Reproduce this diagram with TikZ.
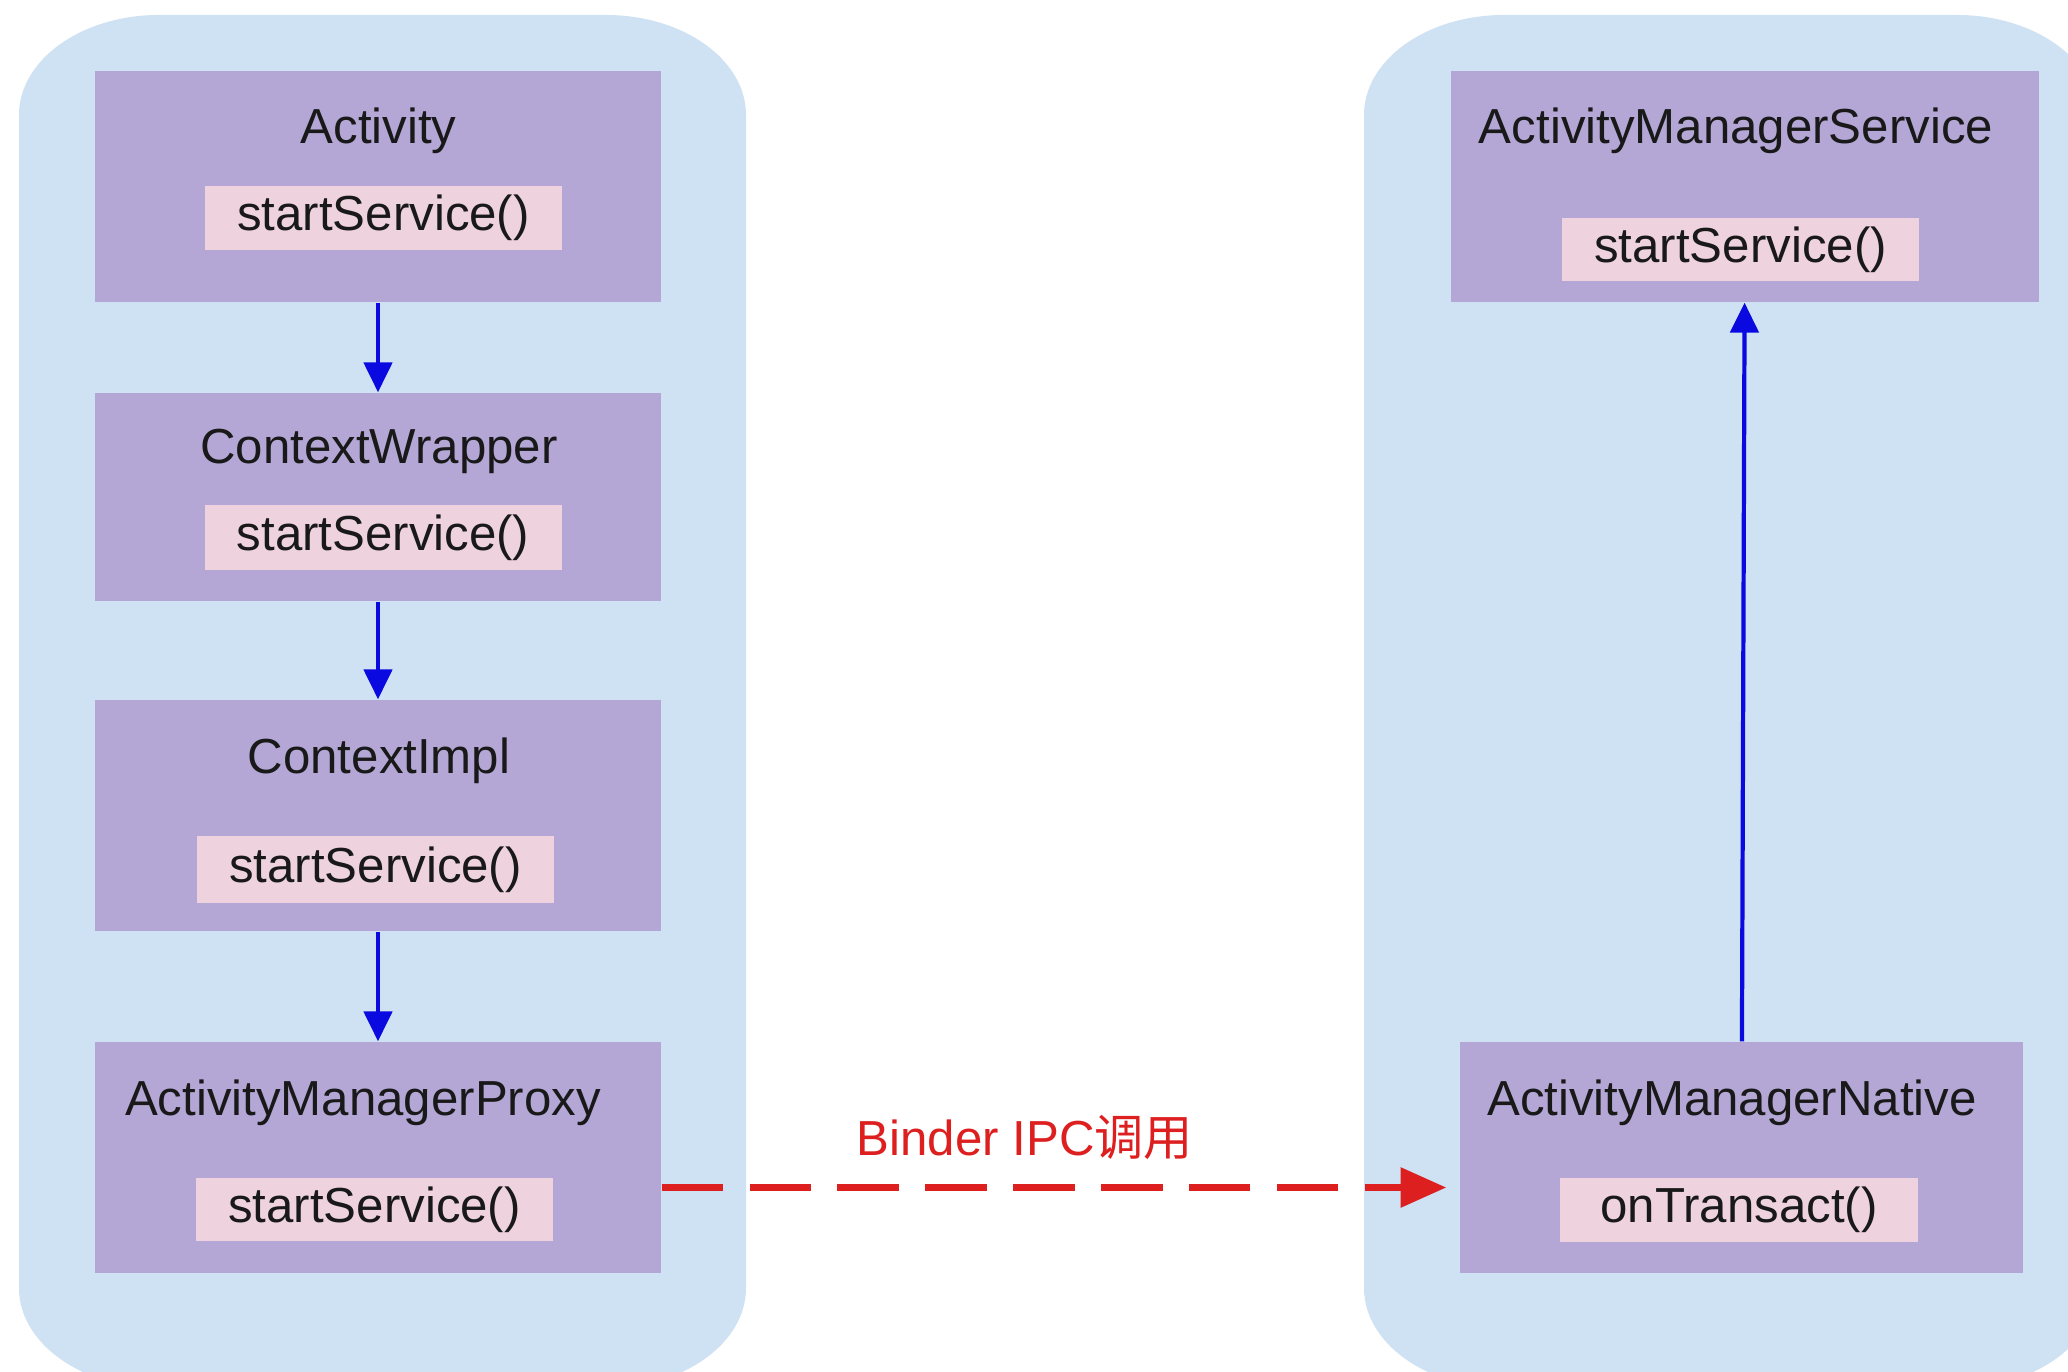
\documentclass[tikz,border=0pt]{standalone}
\usepackage{fontspec}
\setmainfont{Liberation Sans}
\newfontfamily\cjk{Noto Sans CJK SC}
\usetikzlibrary{arrows.meta}
\definecolor{panelblue}{HTML}{CFE2F3}
\definecolor{boxpurple}{HTML}{B4A7D6}
\definecolor{methodpink}{HTML}{EED3DE}
\definecolor{callred}{HTML}{DD1F1F}
\definecolor{callblue}{HTML}{0A0AE0}

\begin{document}
\begin{tikzpicture}[
            font=\fontsize{14}{16}\selectfont,
            panel/.style={fill=panelblue},
            cls/.style={fill=boxpurple, inner sep=0pt, minimum width=5.66cm,
                minimum height=2.31cm},
            title/.style={anchor=base, text=black!90, inner sep=0pt},
            method/.style={fill=methodpink, inner sep=0pt, minimum width=3.57cm,
                minimum height=0.64cm, text=black!90},
            call/.style={-{Triangle[length=8.5pt,width=8pt]}, callblue, line width=1.2pt},
            ipc/.style={-{Triangle[length=13pt,width=11pt]}, callred, line width=2pt,
                dash pattern=on 17.5pt off 7.5pt}]
            \clip (0,0) rectangle (20.68,-13.72);
            \fill[white] (0,0) rectangle (20.68,-13.72);

            % the two processes
            \foreach \xa/\xb in {0.19/7.46, 13.64/20.97} {
                \fill[panel] (\xa,-1.15)
                    arc[start angle=180, end angle=90, x radius=1.4, y radius=1.0]
                    -- (\xb-1.4,-0.15)
                    arc[start angle=90, end angle=0, x radius=1.4, y radius=1.0]
                    -- (\xb,-12.88)
                    arc[start angle=0, end angle=-90, x radius=1.4, y radius=1.0]
                    -- (\xa+1.4,-13.88)
                    arc[start angle=270, end angle=180, x radius=1.4, y radius=1.0]
                    -- cycle;
            }

            \node[cls] (act) at (3.78,-1.865) {};
            \node[title] (act-t) at (3.785,-1.44) {Activity};
            \node[method] (act-m) at (3.835,-2.18) {startService()};

            \node[cls, minimum height=2.08cm] (cw) at (3.78,-4.97) {};
            \node[title] (cw-t) at (3.79,-4.64) {ContextWrapper};
            \node[method, minimum height=0.65cm] (cw-m) at (3.83,-5.375) {startService()};

            \node[cls] (ci) at (3.78,-8.155) {};
            \node[title] (ci-t) at (3.79,-7.73) {ContextImpl};
            \node[method, minimum height=0.67cm] (ci-m) at (3.755,-8.695) {startService()};

            \node[cls] (amp) at (3.78,-11.575) {};
            \node[title] (amp-t) at (3.63,-11.15) {ActivityManagerProxy};
            \node[method, minimum height=0.63cm] (amp-m) at (3.745,-12.095) {startService()};

            \node[cls, minimum width=5.88cm] (ams) at (17.45,-1.865) {};
            \node[title] (ams-t) at (17.36,-1.44) {ActivityManagerService};
            \node[method, minimum height=0.63cm] (ams-m) at (17.405,-2.495) {startService()};

            \node[cls, minimum width=5.63cm] (amn) at (17.415,-11.575) {};
            \node[title] (amn-t) at (17.32,-11.15) {ActivityManagerNative};
            \node[method, minimum width=3.58cm] (amn-m) at (17.39,-12.10) {onTransact()};

            \draw[call] (act) -- (cw);
            \draw[call] (cw) -- (ci);
            \draw[call] (ci) -- (amp);
            \draw[call] (amn) -- (ams);

            \draw[ipc] ([yshift=-3mm]amp.east) -- ([yshift=-3mm,xshift=-1.3mm]amn.west);
            \node[title, text=callred] (ipc-t) at (10.25,-11.55) {Binder IPC{\cjk 调用}};
        \end{tikzpicture}
\end{document}
